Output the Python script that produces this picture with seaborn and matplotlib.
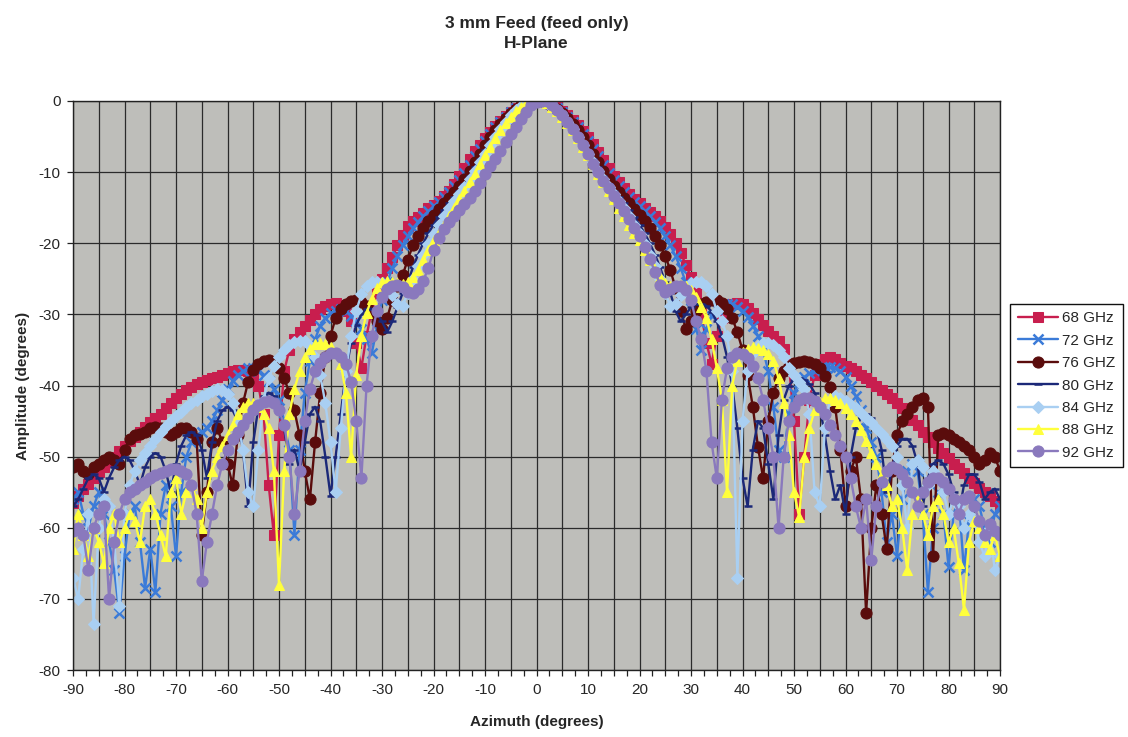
import matplotlib
matplotlib.use('Agg')
import matplotlib.pyplot as plt
import seaborn as sns
from matplotlib.ticker import MultipleLocator, FuncFormatter

# 3 mm feed, H-plane pattern, one value per degree from -90 to 90
AZIMUTH = list(range(-90, 91))

FREQ_LABELS = ['68 GHz', '72 GHz', '76 GHZ', '80 GHz', '84 GHz', '88 GHz', '92 GHz']

AMP_68 = [
    -56.5, -55.5, -54.5, -53.8, -53.0, -52.2, -51.5, -50.8, -50.0, -49.2,   # -90..-81
    -48.5, -47.8, -47.2, -46.5, -45.8, -45.2, -44.6, -44.0, -43.2, -42.5,   # -80..-71
    -41.8, -41.2, -40.6, -40.2, -39.8, -39.5, -39.2, -39.0, -38.8, -38.5,   # -70..-61
    -38.2, -38.0, -37.8, -37.8, -38.0, -38.5, -40.0, -44.0, -54.0, -61.0,   # -60..-51
    -47.0, -38.0, -35.0, -33.5, -32.5, -31.7, -30.8, -30.0, -29.2, -28.8,   # -50..-41
    -28.5, -28.4, -28.7, -29.5, -31.0, -34.0, -37.5, -33.0, -29.5, -27.0,   # -40..-31
    -25.0, -23.5, -22.0, -20.3, -18.8, -17.6, -16.9, -16.3, -15.7, -15.1,   # -30..-21
    -14.6, -14.0, -13.4, -12.6, -11.6, -10.6, -9.4, -8.2, -7.1, -6.2,       # -20..-11
    -5.2, -4.3, -3.5, -2.8, -2.1, -1.5, -1.0, -0.5, -0.2, 0.0,              # -10..-1
    0.0,                                                                    # 0
    0.0, -0.2, -0.5, -0.9, -1.4, -2.0, -2.7, -3.4, -4.2, -5.1,              # 1..10
    -6.1, -7.2, -8.3, -9.4, -10.5, -11.4, -12.3, -13.1, -13.8, -14.4,       # 11..20
    -15.0, -15.6, -16.2, -16.9, -17.7, -18.7, -19.9, -21.4, -23.0, -24.8,   # 21..30
    -27.0, -30.0, -34.0, -37.0, -33.0, -30.5, -29.2, -28.6, -28.4, -28.6,   # 31..40
    -29.1, -29.8, -30.6, -31.5, -32.3, -33.0, -33.8, -34.8, -37.0, -45.0,   # 41..50
    -58.0, -50.0, -42.0, -38.5, -37.0, -36.3, -36.0, -36.3, -36.8, -37.3,   # 51..60
    -37.6, -38.0, -38.5, -39.0, -39.5, -40.0, -40.6, -41.2, -41.8, -42.5,   # 61..70
    -43.2, -44.0, -44.8, -45.6, -46.5, -47.3, -48.0, -48.8, -49.5, -50.2,   # 71..80
    -51.0, -51.6, -52.3, -53.0, -53.7, -54.4, -55.0, -55.6, -56.2, -57.0,   # 81..90
]

AMP_72 = [
    -56, -55, -58, -60, -57, -55, -58, -62, -66, -72,
    -64, -58, -57, -62, -68.5, -63, -69, -58, -54, -57,
    -64, -55, -50, -48, -47, -46.5, -46, -45, -43.5, -42,
    -40.5, -39.3, -38.5, -38, -37.6, -37.6, -38, -38.5, -39.3, -40.5,
    -42, -45, -49, -61, -49, -41, -36.5, -33.5, -31.6, -30.5,
    -29.8, -29.5, -29.3, -29.5, -30.2, -31, -32, -33.5, -35.5, -32,
    -28, -25.5, -23.5, -21.8, -20.3, -19, -17.9, -17, -16.2, -15.5,
    -14.8, -14.2, -13.5, -12.8, -12, -11.1, -10.1, -9, -7.8, -6.7,
    -5.6, -4.6, -3.7, -2.9, -2.2, -1.5, -1, -0.5, -0.2, 0,
    0,
    0, -0.2, -0.5, -1, -1.5, -2.2, -2.9, -3.7, -4.6, -5.6,
    -6.7, -7.8, -9, -10.1, -11.1, -12, -12.8, -13.5, -14.2, -14.8,
    -15.5, -16.2, -17, -17.9, -19, -20.3, -21.8, -23.5, -25.5, -28,
    -32, -35, -32, -30.2, -29.3, -28.8, -28.6, -28.6, -28.9, -29.5,
    -30.4, -31.6, -33, -35, -38, -43, -49, -50, -44, -41,
    -39.5, -38.8, -38.3, -38, -37.6, -37.4, -37.4, -37.6, -38, -38.8,
    -40, -41.5, -43.5, -46, -48, -50, -55, -62, -58, -64,
    -56, -52, -51, -52, -58, -69, -60, -55, -58, -65.5,
    -58, -56, -66, -59, -56, -57, -60, -62, -58, -57,
]

AMP_76 = [
    -51.5, -51, -52, -52.5, -51.5, -51, -50.5, -50, -50.5, -51,
    -49, -47.5, -47, -46.8, -46.5, -46, -45.8, -46, -46.5, -47,
    -46.5, -46, -46, -46.5, -47.5, -61, -55, -48, -46, -48,
    -51, -54, -47, -42.5, -39.5, -37.8, -37, -36.6, -36.4, -36.7,
    -37.5, -39, -41, -43.5, -47, -52, -56, -48, -41, -36,
    -33, -30.5, -29.2, -28.5, -28.1, -28, -28.2, -28.8, -29.8, -31,
    -32, -30.5, -28, -26, -24.5, -22.3, -20.3, -19, -17.9, -16.9,
    -16, -15.2, -14.4, -13.6, -12.8, -11.9, -10.9, -9.8, -8.6, -7.4,
    -6.2, -5.1, -4.1, -3.2, -2.4, -1.7, -1.1, -0.6, -0.3, 0,
    0,
    0, -0.3, -0.6, -1.1, -1.7, -2.4, -3.2, -4.1, -5.1, -6.2,
    -7.4, -8.6, -9.8, -10.9, -11.9, -12.8, -13.6, -14.4, -15.2, -16,
    -16.9, -17.9, -19, -20.3, -21.8, -23.8, -26.3, -29.5, -32, -31,
    -29.5, -28.6, -28.2, -28, -28, -28.4, -29.2, -30.5, -32.5, -35,
    -38.5, -43, -48.6, -53, -45, -41, -39, -38, -37.3, -36.9,
    -36.7, -36.6, -36.7, -37, -37.6, -38.6, -40.2, -43, -49, -57,
    -52, -50, -56, -72, -60, -54, -58, -63, -52, -47,
    -45, -44, -43, -42, -41.8, -43, -64, -47, -46.7, -47,
    -47.5, -48, -48.5, -49, -50, -51, -50.5, -49.5, -50, -52,
]

AMP_80 = [
    -57, -56, -54.5, -53, -52.5, -53, -55, -53, -51.5, -50.5,
    -50, -50.5, -52, -54, -51.5, -50, -49.5, -50, -52, -55,
    -51, -48.5, -47, -46.5, -47, -49, -53, -48, -45, -43.5,
    -43, -43.5, -45, -49, -57, -48, -43, -41.5, -41, -41.5,
    -43, -46, -51, -49, -52, -48, -44, -43, -45, -50,
    -55.5, -50, -44, -38, -34, -31.5, -30, -29.2, -29.2, -29.8,
    -31, -32.5, -31, -29, -27, -25.5, -23.4, -21.6, -20, -18.6,
    -17.4, -16.3, -15.3, -14.4, -13.5, -12.6, -11.6, -10.5, -9.3, -8.1,
    -6.9, -5.7, -4.6, -3.6, -2.7, -1.9, -1.2, -0.7, -0.3, 0,
    0,
    0, -0.3, -0.7, -1.2, -1.9, -2.7, -3.6, -4.6, -5.7, -6.9,
    -8.1, -9.3, -10.5, -11.6, -12.6, -13.5, -14.4, -15.3, -16.3, -17.4,
    -18.6, -20, -21.6, -23.4, -25.5, -27, -29.5, -31, -30, -29,
    -28.6, -28.5, -28.8, -29.6, -31, -33, -36, -40, -46, -53,
    -57, -49, -45, -46, -51, -56, -47, -42, -40, -39.2,
    -39, -39.2, -39.8, -41, -43, -47, -52, -56, -54, -58,
    -50, -46, -44.5, -44, -44.5, -46, -49, -55, -52, -48.5,
    -47.5, -47.5, -48.5, -51, -57, -53, -51, -50.5, -51, -52.5,
    -55, -58, -54, -52.5, -52.5, -53.5, -56, -55, -54.5, -56,
]

AMP_84 = [
    -67, -70, -63, -58, -73.5, -60, -56, -57, -62, -71,
    -58, -54, -52, -50.5, -49.5, -48.5, -47.5, -46.5, -45.7, -45,
    -44.3, -43.7, -43, -42.5, -42, -41.5, -41.2, -40.8, -40.5, -40.6,
    -41.2, -42.5, -45, -49, -55, -57, -49, -42, -39, -37.2,
    -36, -35, -34.3, -33.9, -33.7, -33.8, -34.5, -36, -38.5, -42.5,
    -48, -55, -46, -38, -33, -29.5, -27.2, -26, -25.5, -25.4,
    -25.6, -26.2, -27.3, -28.5, -28.8, -27, -25, -23.2, -21.6, -20.1,
    -18.7, -17.4, -16.2, -15.1, -14.1, -13.1, -12.1, -11, -9.8, -8.6,
    -7.4, -6.2, -5, -3.9, -2.9, -2, -1.3, -0.7, -0.3, 0,
    0,
    0, -0.3, -0.7, -1.3, -2, -2.9, -3.9, -5, -6.2, -7.4,
    -8.6, -9.8, -11, -12.1, -13.1, -14.1, -15.1, -16.2, -17.4, -18.7,
    -20.1, -21.6, -23.2, -25, -27, -28.8, -28.5, -27.3, -26.2, -25.6,
    -25.4, -25.5, -26, -27.2, -29.5, -31, -33, -38, -67, -45,
    -38, -35.5, -34.5, -34, -34, -34.3, -35, -36, -37.5, -38.5,
    -39.5, -40.5, -44, -55, -57, -46, -42, -41.5, -41.8, -42.2,
    -42.7, -43.2, -43.8, -44.5, -45.2, -46, -46.8, -47.6, -48.5, -50,
    -54, -60, -51, -50.5, -51.5, -54, -52, -53, -55, -58,
    -56, -57, -60, -58, -59, -62, -64, -60, -66, -64,
]

AMP_88 = [
    -63, -58, -61, -64, -60, -62, -65, -60, -58, -62,
    -60, -58, -59, -62, -57, -56, -58, -61, -64, -55,
    -53, -58, -55, -54, -56, -60, -55, -52, -50, -48.5,
    -47, -45.5, -44, -43, -42.5, -42.5, -43, -44, -46, -52,
    -68, -52, -44, -40.5, -38, -36, -34.8, -34.2, -34, -34.2,
    -34.6, -35.5, -37, -41, -50, -38.5, -33, -29.8, -27.8, -26.3,
    -25.5, -25.3, -25.4, -25.6, -25.7, -25.5, -24.8, -23.7, -22.4, -21,
    -19.6, -18.6, -17.4, -16.2, -15, -13.8, -12.6, -11.4, -10.2, -8.9,
    -7.6, -6.4, -5.2, -4.1, -3.1, -2.2, -1.4, -0.8, -0.3, 0,
    0,
    0, -0.3, -0.8, -1.4, -2.2, -3.1, -4.1, -5.2, -6.4, -7.6,
    -8.9, -10.2, -11.4, -12.6, -13.8, -15, -16.2, -17.4, -18.6, -19.6,
    -21, -22.4, -23.7, -24.8, -25.6, -26, -26, -25.9, -26, -26.6,
    -27.6, -29, -30.5, -33.5, -37.5, -42, -55, -40, -36.5, -35.3,
    -34.8, -34.6, -34.7, -35, -35.6, -36.5, -39, -42.5, -47, -55,
    -58.5, -50, -46, -43.5, -42.3, -41.8, -41.7, -42, -42.5, -43.2,
    -44, -45, -46.3, -47.8, -49.5, -51, -52.5, -54, -57, -56,
    -60, -66, -58, -56, -58, -61, -57, -56, -58, -62,
    -60, -65, -71.5, -62, -59, -60, -62, -63, -61, -64,
]

AMP_92 = [
    -60.5, -60, -61, -66, -60, -58, -57, -70, -62, -58,
    -56, -55, -54.5, -54, -53.5, -53, -52.6, -52.3, -52, -51.8,
    -51.8, -52, -52.5, -54, -58, -67.5, -62, -58, -54, -51,
    -49, -47.5, -46.5, -45.5, -44.5, -43.5, -42.8, -42.3, -42.2, -42.5,
    -43.5, -45.5, -50, -58, -52, -45, -40.5, -38, -36.8, -36,
    -35.5, -35.5, -36, -37, -39.5, -45, -53, -40, -33, -29.5,
    -27.5, -26.5, -26, -25.9, -26.2, -26.8, -27, -26.5, -25.3, -23.5,
    -21, -19.2, -18, -17, -16.2, -15.3, -14.5, -13.6, -12.6, -11.5,
    -10.3, -9.2, -8.1, -7, -5.8, -4.7, -3.6, -2.5, -1.5, -0.5,
    -0.2,
    0, 0, -0.5, -1.2, -2, -3, -4, -5, -6.2, -7.5,
    -8.8, -10, -11.2, -12.3, -13.3, -14.3, -15.4, -16.6, -17.8, -19,
    -20.5, -22.2, -24, -25.8, -26.8, -26.5, -26, -26, -26.6, -28,
    -31, -33.5, -38, -48, -53, -42, -37.5, -36, -35.5, -35.6,
    -36.2, -37.2, -39, -42, -46, -50, -60, -50, -45, -43,
    -42, -41.7, -41.8, -42.2, -43, -44, -45.5, -47, -48.5, -50,
    -53, -57, -60, -56, -64.5, -57, -53.5, -52, -51.5, -51.8,
    -52.5, -53.5, -55, -57, -55, -53.5, -53, -53, -53.5, -54.5,
    -56, -58, -56, -55.5, -57, -59, -61, -59.5, -60.5, -61,
]

AMPLITUDES = [AMP_68, AMP_72, AMP_76, AMP_80, AMP_84, AMP_88, AMP_92]

# marker styles roughly like the old Excel defaults
STYLES = [
    dict(color='#C81E4E', marker='s', markersize=6.5),
    dict(color='#3B7BD8', marker='x', markersize=7, markeredgewidth=1.8),
    dict(color='#5A0C0C', marker='o', markersize=8),
    dict(color='#1B2878', marker='_', markersize=5.5, markeredgewidth=1.8),
    dict(color='#A9CFF2', marker='D', markersize=5.8),
    dict(color='#FFFF3C', marker='^', markersize=7.5),
    dict(color='#8A79BD', marker='o', markersize=8),
]


def main():
    sns.set_theme(style='white')
    plt.rcParams['font.family'] = ['Liberation Sans', 'DejaVu Sans']
    plt.rcParams['axes.unicode_minus'] = False

    fig = plt.figure(figsize=(11.28, 7.37), dpi=100)
    ax = fig.add_axes([73 / 1128, 1 - 670 / 737, 927 / 1128, 569 / 737])
    ax.set_facecolor('#BEBEBA')

    for label, amps, style in zip(FREQ_LABELS, AMPLITUDES, STYLES):
        assert len(amps) == len(AZIMUTH), label
        sns.lineplot(x=AZIMUTH, y=amps, ax=ax, label=label, linewidth=1.7,
                     estimator=None, sort=False,
                     markeredgecolor=style['color'], **style)

    ax.set_xlim(-90, 90)
    ax.set_ylim(-80, 0)

    # gridlines every 5 deg, labels every 10, small ticks every 2.5
    ax.xaxis.set_major_locator(MultipleLocator(5))
    ax.xaxis.set_minor_locator(MultipleLocator(2.5))
    ax.xaxis.set_major_formatter(FuncFormatter(
        lambda v, p: f'{int(round(v))}' if int(round(v)) % 10 == 0 else ''))
    ax.yaxis.set_major_locator(MultipleLocator(10))
    ax.grid(True, which='major', color='#2B2B2B', linewidth=0.9)
    ax.set_axisbelow(True)

    ax.tick_params(axis='both', which='both', direction='out', length=4,
                   width=0.9, color='#222222', labelsize=11, pad=5,
                   bottom=True, left=True)
    for spine in ax.spines.values():
        spine.set_color('#222222')
        spine.set_linewidth(1.0)

    ax.set_xlabel('Azimuth (degrees)', fontsize=11, fontweight='bold', labelpad=13)
    ax.set_ylabel('Amplitude (degrees)', fontsize=11, fontweight='bold', labelpad=6)
    ax.set_title('3 mm Feed (feed only)\nH-Plane', fontsize=12.5,
                 fontweight='bold', pad=38, linespacing=1.45)

    leg = ax.legend(loc='center left', bbox_to_anchor=(1.003, 0.5), fontsize=11,
                    frameon=True, fancybox=False, framealpha=1,
                    edgecolor='#111111', handlelength=2.6, labelspacing=0.55,
                    borderpad=0.5, handletextpad=0.3, numpoints=1)
    leg.get_frame().set_linewidth(1.0)

    fig.savefig('out.png', dpi=100, facecolor='white')
    plt.close(fig)


if __name__ == '__main__':
    main()
